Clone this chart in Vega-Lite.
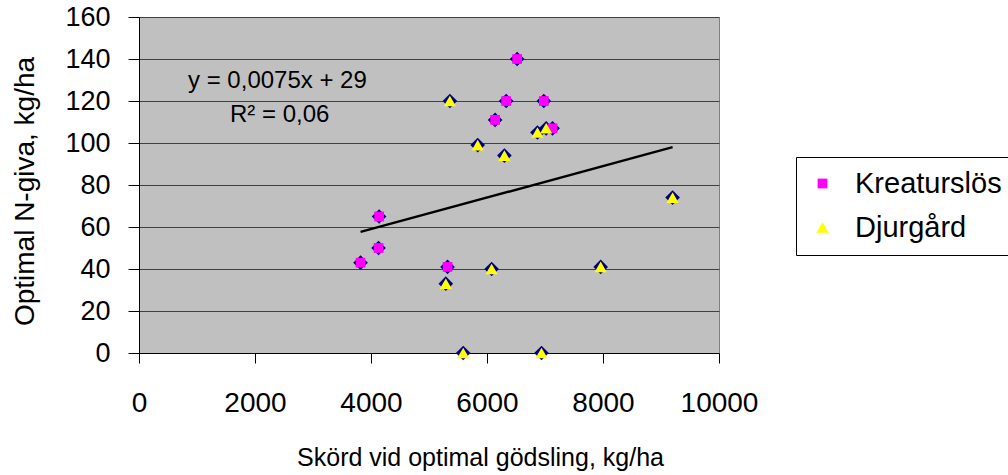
{
  "$schema": "https://vega.github.io/schema/vega-lite/v6.json",
  "width": 580,
  "height": 336,
  "autosize": {"type": "none"},
  "padding": {"left": 139, "top": 17, "right": 289, "bottom": 122},
  "background": "white",
  "config": {
    "font": "Liberation Sans",
    "view": {"fill": "#C0C0C0", "stroke": "#808080", "strokeWidth": 1}
  },
  "datasets": {
    "pts": [
      {"skord": 6520, "ngiva": 140, "serie": "Kreaturslös"},
      {"skord": 6330, "ngiva": 120, "serie": "Kreaturslös"},
      {"skord": 6980, "ngiva": 120, "serie": "Kreaturslös"},
      {"skord": 6140, "ngiva": 111, "serie": "Kreaturslös"},
      {"skord": 7130, "ngiva": 107, "serie": "Kreaturslös"},
      {"skord": 4140, "ngiva": 65, "serie": "Kreaturslös"},
      {"skord": 4130, "ngiva": 50, "serie": "Kreaturslös"},
      {"skord": 3820, "ngiva": 43, "serie": "Kreaturslös"},
      {"skord": 5320, "ngiva": 41, "serie": "Kreaturslös"},
      {"skord": 5360, "ngiva": 120, "serie": "Djurgård"},
      {"skord": 5840, "ngiva": 99, "serie": "Djurgård"},
      {"skord": 6300, "ngiva": 94, "serie": "Djurgård"},
      {"skord": 6870, "ngiva": 105, "serie": "Djurgård"},
      {"skord": 7020, "ngiva": 107, "serie": "Djurgård"},
      {"skord": 5290, "ngiva": 33, "serie": "Djurgård"},
      {"skord": 6080, "ngiva": 40, "serie": "Djurgård"},
      {"skord": 5590, "ngiva": 0, "serie": "Djurgård"},
      {"skord": 6940, "ngiva": 0, "serie": "Djurgård"},
      {"skord": 7960, "ngiva": 41, "serie": "Djurgård"},
      {"skord": 9200, "ngiva": 74, "serie": "Djurgård"}
    ],
    "trend": [
      {"skord": 3820, "ngiva": 57.65},
      {"skord": 9200, "ngiva": 98.0}
    ],
    "eq": [
      {"skord": 845, "ngiva": 126.2, "label": "y = 0,0075x + 29"},
      {"skord": 1569, "ngiva": 110.1, "label": "R² = 0,06"}
    ]
  },
  "layer": [
    {
      "data": {"name": "pts"},
      "mark": {"type": "point", "shape": "diamond", "filled": true, "color": "#000080", "size": 215, "opacity": 1},
      "encoding": {
        "x": {
          "field": "skord", "type": "quantitative",
          "scale": {"domain": [0, 10000], "nice": false, "zero": false},
          "axis": {
            "title": "Skörd vid optimal gödsling, kg/ha",
            "values": [0, 2000, 4000, 6000, 8000, 10000],
            "format": "d",
            "grid": false,
            "domainColor": "black",
            "tickColor": "black",
            "tickSize": 10,
            "labelFontSize": 28,
            "labelPadding": 26,
            "labelColor": "black",
            "labelFlush": false,
            "labelOverlap": false,
            "titleFontSize": 25,
            "titleFontWeight": "normal",
            "titleColor": "black",
            "titleX": 341,
            "titleY": 112,
            "titleBaseline": "alphabetic",
            "titleAlign": "center"
          }
        },
        "y": {
          "field": "ngiva", "type": "quantitative",
          "scale": {"domain": [0, 160], "nice": false},
          "axis": {
            "title": "Optimal N-giva, kg/ha",
            "values": [0, 20, 40, 60, 80, 100, 120, 140, 160],
            "grid": true,
            "gridColor": "#404040",
            "gridOpacity": 1,
            "domainColor": "black",
            "tickColor": "black",
            "tickSize": 11,
            "labelFontSize": 27,
            "labelPadding": 18,
            "labelColor": "black",
            "labelFlush": false,
            "labelOverlap": false,
            "titleFontSize": 28,
            "titleFontWeight": "normal",
            "titleColor": "black",
            "titleX": -106,
            "titleY": 174,
            "titleBaseline": "alphabetic",
            "titleAlign": "center",
            "titleAngle": -90
          }
        }
      }
    },
    {
      "data": {"name": "pts"},
      "mark": {"type": "point", "filled": true, "opacity": 1},
      "encoding": {
        "x": {"field": "skord", "type": "quantitative"},
        "y": {"field": "ngiva", "type": "quantitative"},
        "size": {
          "field": "serie", "type": "nominal",
          "scale": {"domain": ["Kreaturslös", "Djurgård"], "range": [95, 150]},
          "legend": null
        },
        "color": {
          "field": "serie", "type": "nominal",
          "scale": {"domain": ["Kreaturslös", "Djurgård"], "range": ["#FF00FF", "#FFFF00"]},
          "legend": {
            "title": null,
            "orient": "none",
            "legendX": 657,
            "legendY": 140,
            "padding": 12,
            "strokeColor": "black",
            "fillColor": "white",
            "labelFontSize": 29,
            "labelColor": "black",
            "symbolSize": 60,
            "labelOffset": 18,
            "rowPadding": 14,
            "symbolStrokeWidth": 0
          }
        },
        "shape": {
          "field": "serie", "type": "nominal",
          "scale": {"domain": ["Kreaturslös", "Djurgård"], "range": ["square", "triangle-up"]},
          "legend": {
            "title": null,
            "orient": "none",
            "legendX": 657,
            "legendY": 140,
            "padding": 12,
            "strokeColor": "black",
            "fillColor": "white",
            "labelFontSize": 29,
            "labelColor": "black",
            "symbolSize": 60,
            "labelOffset": 18,
            "rowPadding": 14,
            "symbolStrokeWidth": 0
          }
        }
      }
    },
    {
      "data": {"name": "trend"},
      "mark": {"type": "line", "color": "black", "strokeWidth": 2.4},
      "encoding": {
        "x": {"field": "skord", "type": "quantitative"},
        "y": {"field": "ngiva", "type": "quantitative"}
      }
    },
    {
      "data": {"name": "eq"},
      "mark": {"type": "text", "align": "left", "baseline": "alphabetic", "fontSize": 24, "color": "black"},
      "encoding": {
        "x": {"field": "skord", "type": "quantitative"},
        "y": {"field": "ngiva", "type": "quantitative"},
        "text": {"field": "label"}
      }
    }
  ]
}
